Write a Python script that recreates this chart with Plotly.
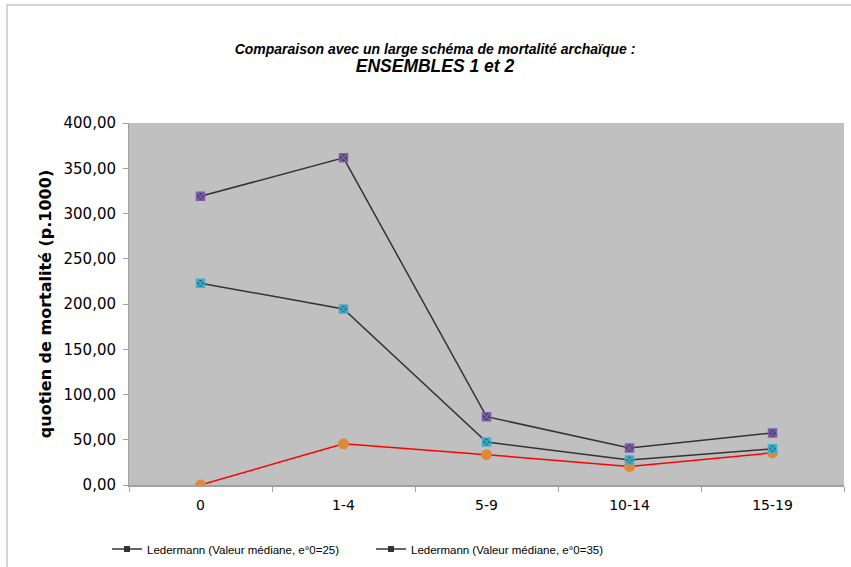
import plotly.graph_objects as go

categories = ["0", "1-4", "5-9", "10-14", "15-19"]
led25 = [319.0, 361.5, 75.5, 41.0, 57.5]
led35 = [223.0, 194.5, 47.5, 27.5, 40.0]
ensembles = [0.0, 45.5, 33.5, 20.5, 35.5]
legend_names = ["Ledermann (Valeur médiane, e°0=25)", "Ledermann (Valeur médiane, e°0=35)"]

W, H = 851, 567
ML, MR, MT, MB = 129, 7, 123, 82
PW, PH = W - ML - MR, H - MT - MB

fig = go.Figure()

fig.add_trace(go.Scatter(
    x=categories, y=ensembles, mode="lines+markers", showlegend=False,
    line=dict(color="#ff0000", width=1.5),
    marker=dict(symbol="circle", size=11, color="#e0883a"),
))
fig.add_trace(go.Scatter(
    x=categories, y=led35, mode="lines+markers", showlegend=False,
    line=dict(color="#333333", width=1.5),
    marker=dict(symbol="square-x", size=8, color="#2f6f80",
                line=dict(color="#41b0cc", width=1.5)),
))
fig.add_trace(go.Scatter(
    x=categories, y=led25, mode="lines+markers", showlegend=False,
    line=dict(color="#333333", width=1.5),
    marker=dict(symbol="square-x", size=8, color="#4a3e5e",
                line=dict(color="#7c5fa8", width=1.5)),
))
for nm in legend_names:
    fig.add_trace(go.Scatter(
        x=[None], y=[None], mode="lines+markers", name=nm,
        line=dict(color="#333333", width=1.5),
        marker=dict(symbol="square", size=6, color="#333333"),
    ))

def px_x(p):
    return (p - ML) / PW

def px_y(p):
    return (H - MB - p) / PH

# outer chart frame
fig.add_shape(type="line", xref="paper", yref="paper",
              x0=px_x(6), x1=px_x(851), y0=px_y(5), y1=px_y(5),
              line=dict(color="#c8c8c8", width=1.5))
fig.add_shape(type="line", xref="paper", yref="paper",
              x0=px_x(7), x1=px_x(7), y0=px_y(5), y1=px_y(567),
              line=dict(color="#c8c8c8", width=1.5))

fig.update_layout(
    width=W, height=H,
    margin=dict(l=ML, r=MR, t=MT, b=MB, autoexpand=False),
    paper_bgcolor="white", plot_bgcolor="#c0c0c0",
    separators=", ",
    font=dict(family="DejaVu Sans, Verdana, sans-serif", color="#000000", size=14),
    title=dict(
        text="<b><i>Comparaison avec un large schéma de mortalité archaïque :</i></b><br>"
             "<span style='font-size:17.5px'><b><i>ENSEMBLES 1 et 2</i></b></span>",
        x=px_x(435), xanchor="center", xref="paper",
        y=1 - 54 / H, yanchor="middle",
        font=dict(family="Liberation Sans, Arial, sans-serif", size=14, color="#000000"),
    ),
    legend=dict(
        orientation="h", x=px_x(107), xanchor="left", y=px_y(549), yanchor="middle",
        font=dict(family="Liberation Sans, Arial, sans-serif", size=11.5),
        entrywidth=219, entrywidthmode="pixels", itemwidth=30,
        bgcolor="rgba(0,0,0,0)",
    ),
    xaxis=dict(
        type="category", range=[-0.5, 4.5], tickson="boundaries",
        ticks="outside", ticklen=5, tickcolor="#a0a0a0",
        showline=True, linecolor="#a0a0a0", linewidth=1.5,
        showgrid=False, zeroline=False, tickfont=dict(size=14),
        ticklabelstandoff=6,
    ),
    yaxis=dict(
        range=[0, 400], dtick=50, tickformat=".2f",
        ticks="outside", ticklen=5, tickcolor="#a0a0a0",
        showline=True, linecolor="#a0a0a0", linewidth=1,
        showgrid=False, zeroline=False, tickfont=dict(size=15),
        ticklabelstandoff=4,
        title=dict(text="<b>quotien de mortalité (p.1000)</b>", font=dict(size=16), standoff=7),
    ),
)

fig.write_html("out.html", config={"displayModeBar": False},
               post_script="document.body.style.margin='0';")
